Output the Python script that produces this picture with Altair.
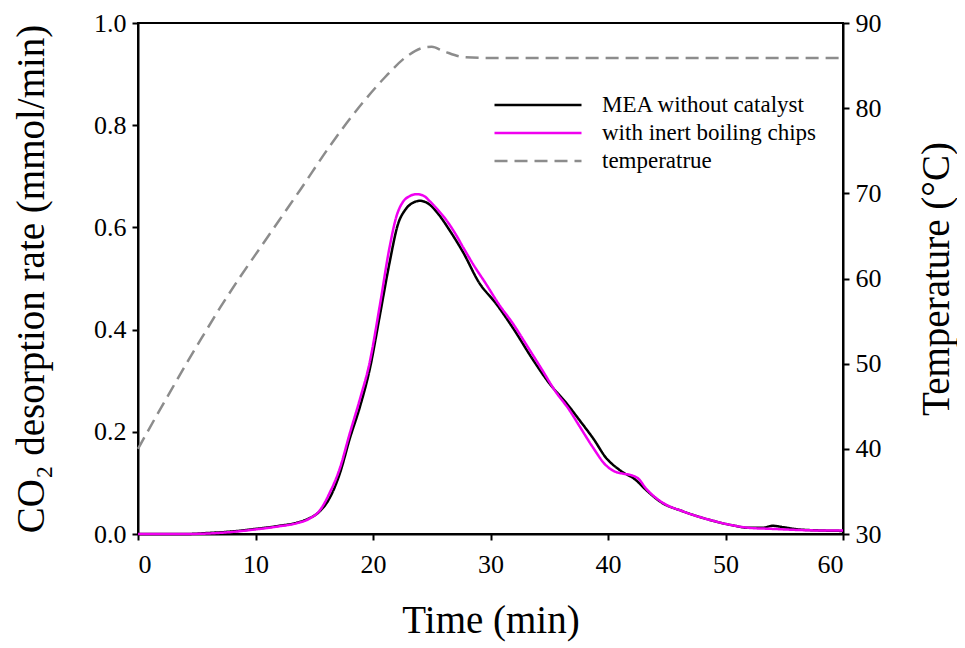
import altair as alt
import pandas as pd

# ---- data ----
series_names = ["MEA without catalyst", "with inert boiling chips", "temperatrue"]

mea_t = [0, 4, 6, 8, 10, 12, 13.5, 14.5, 15.5, 16.3, 17.2, 18.0, 18.9, 19.7, 20.6,
         21.4, 22.15, 22.7, 23.3, 24.0, 24.8, 25.6, 26.5, 27.7, 29.0, 30.5, 32.0,
         33.5, 35.0, 36.5, 37.6, 38.8, 39.8, 41.0, 42.4, 43.2, 44.6, 46.3, 48.6,
         50.6, 52.0, 53.1, 54.0, 55.0, 56.2, 58, 60]
mea_v = [0, 0, 0.002, 0.005, 0.01, 0.016, 0.022, 0.03, 0.045, 0.07, 0.12, 0.185,
         0.25, 0.32, 0.43, 0.53, 0.608, 0.633, 0.647, 0.652, 0.645, 0.625, 0.595,
         0.55, 0.493, 0.45, 0.40, 0.345, 0.295, 0.255, 0.222, 0.185, 0.15, 0.125,
         0.105, 0.087, 0.061, 0.045, 0.028, 0.017, 0.012, 0.012, 0.016, 0.013,
         0.009, 0.007, 0.006]

chips_t = [0, 4, 6, 8, 10, 12, 13.5, 14.5, 15.5, 16.3, 17.2, 18.0, 18.9, 19.7, 20.6,
           21.4, 22.0, 22.55, 23.1, 23.7, 24.3, 24.8, 25.5, 26.25, 27.0, 27.65, 28.6,
           29.6, 30.7, 31.9, 33.2, 34.4, 35.5, 36.7, 37.6, 38.7, 39.8, 40.6, 41.3,
           42.0, 42.6, 43.2, 44.6, 46.3, 48.6, 50.6, 52.0, 54.0, 56.0, 58, 60]
chips_v = [0, 0, 0.001, 0.004, 0.009, 0.015, 0.021, 0.029, 0.047, 0.08, 0.13, 0.195,
           0.265, 0.334, 0.45, 0.56, 0.622, 0.650, 0.661, 0.665, 0.662, 0.652, 0.635,
           0.614, 0.588, 0.562, 0.525, 0.49, 0.45, 0.412, 0.365, 0.321, 0.28, 0.243,
           0.21, 0.17, 0.135, 0.122, 0.118, 0.115, 0.108, 0.09, 0.062, 0.045, 0.028,
           0.017, 0.012, 0.01, 0.008, 0.007, 0.007]

temp_t = [0, 1.5, 2.7, 4.2, 5.5, 7.0, 8.7, 10.6, 12.9, 13.8, 16.3, 19.1, 21.0, 22.9,
          24.3, 25.0, 26.0, 27.7, 30, 40, 50, 60]
temp_v = [40, 43.7, 46.6, 50.2, 53.2, 56.6, 60.2, 64.0, 68.6, 70.4, 75.5, 80.6, 83.6,
          86.1, 87.1, 87.2, 86.7, 86.0, 85.9, 85.9, 85.9, 85.9]

x_ticks = [0, 10, 20, 30, 40, 50, 60]
y_left_ticks = [0.0, 0.2, 0.4, 0.6, 0.8, 1.0]
y_right_ticks = [30, 40, 50, 60, 70, 80, 90]

co2 = pd.concat([
    pd.DataFrame({"t": mea_t, "v": mea_v, "series": series_names[0], "ord": 0}),
    pd.DataFrame({"t": chips_t, "v": chips_v, "series": series_names[1], "ord": 1}),
], ignore_index=True)
temp = pd.DataFrame({"t": temp_t, "v": temp_v, "series": series_names[2], "ord": 2})

FONT = "Liberation Serif"
colors = ["#000000", "#f000f0", "#8c8c8c"]
dashes = [[1, 0], [1, 0], [13, 7]]


def make_legend():
    return alt.Legend(
        title=None, orient="none", legendX=355, legendY=68, padding=0,
        symbolType="stroke", symbolSize=7569, symbolStrokeWidth=2.5,
        clipHeight=28, rowPadding=0, labelOffset=19, labelLimit=500,
        labelFont=FONT, labelFontSize=23, labelColor="black",
    )


color_enc = alt.Color(
    "series:N",
    scale=alt.Scale(domain=series_names, range=colors),
    sort=series_names,
    legend=make_legend(),
)
dash_enc = alt.StrokeDash(
    "series:N",
    scale=alt.Scale(domain=series_names, range=dashes),
    sort=series_names,
    legend=make_legend(),
)

x_enc = alt.X(
    "t:Q",
    scale=alt.Scale(domain=[0, 60], nice=False, zero=False),
    axis=alt.Axis(values=x_ticks, title="Time (min)", titlePadding=24,
                  labelPadding=11, labelFont=FONT, titleFont=FONT),
)

left = alt.Chart(co2).mark_line(strokeWidth=2.5, interpolate="monotone").encode(
    x=x_enc,
    y=alt.Y("v:Q", scale=alt.Scale(domain=[0, 1], nice=False),
            axis=alt.Axis(values=y_left_ticks, format=".1f",
                          title="CO₂ desorption rate (mmol/min)",
                          titlePadding=42, labelPadding=6,
                          labelFont=FONT, titleFont=FONT)),
    color=color_enc,
    strokeDash=dash_enc,
    order="ord:Q",
)

right = alt.Chart(temp).mark_line(strokeWidth=2.5, interpolate="monotone").encode(
    x=x_enc,
    y=alt.Y("v:Q", scale=alt.Scale(domain=[30, 90], nice=False, zero=False),
            axis=alt.Axis(values=y_right_ticks, orient="right", format="d",
                          title="Temperature (°C)", titleAngle=270,
                          titleBaseline="top", titlePadding=36, labelPadding=6,
                          labelFont=FONT, titleFont=FONT)),
    color=color_enc,
    strokeDash=dash_enc,
)

chart = alt.layer(left, right).resolve_scale(y="independent").properties(
    width=705, height=511,
    padding={"left": 130, "top": 15, "right": 114, "bottom": 113},
    autosize=alt.AutoSizeParams(type="none"),
).configure(
    font=FONT
).configure_view(
    stroke="black", strokeWidth=2
).configure_axis(
    grid=False,
    domainColor="black", domainWidth=2,
    tickColor="black", tickWidth=2, tickSize=6,
    labelFont=FONT, labelFontSize=26, labelColor="black",
    titleFont=FONT, titleFontSize=39, titleFontWeight="normal", titleColor="black",
).configure_legend(
    labelFont=FONT
)

chart.save("out.html", embed_options={"renderer": "svg", "actions": False})
